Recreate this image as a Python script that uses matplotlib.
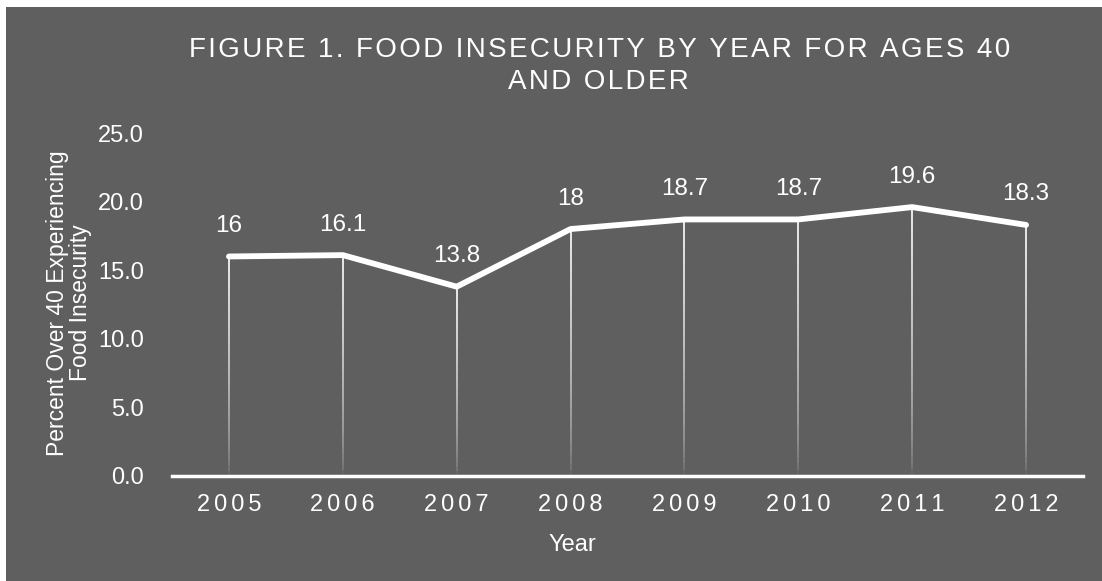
import numpy as np
import matplotlib.pyplot as plt

years = ["2005", "2006", "2007", "2008", "2009", "2010", "2011", "2012"]
values = [16, 16.1, 13.8, 18, 18.7, 18.7, 19.6, 18.3]
value_labels = ["16", "16.1", "13.8", "18", "18.7", "18.7", "19.6", "18.3"]
y_ticks = [0, 5, 10, 15, 20, 25]

bg = "#5f5f5f"
plt.rcParams["font.family"] = ["Liberation Sans", "DejaVu Sans"]


def spaced(s, n=1):
    # wide letter spacing like the original
    return ("\u200a" * n).join(s)


fig = plt.figure(figsize=(11.02, 5.81), dpi=100, facecolor="white")
# gray panel, white strip on the left and top
panel = plt.Rectangle((6 / 1102, 0), 1, 1 - 7 / 581, transform=fig.transFigure,
                      facecolor=bg, lw=0, zorder=-10)
fig.add_artist(panel)

ax = fig.add_axes([172 / 1102, 1 - 476 / 581, (1083 - 172) / 1102, (476 - 133) / 581])
ax.set_zorder(5)
ax.patch.set_alpha(0)
x = np.arange(len(years))
ax.set_xlim(-0.5, len(years) - 0.5)
ax.set_ylim(0, 25)

# drop lines fading toward the axis
n = 40
for xi, v in zip(x, values):
    edges = np.linspace(0, v, n + 1)
    for k in range(n):
        a = 0.05 + 0.9 * (k / n) ** 0.6
        ax.plot([xi, xi], [edges[k], edges[k + 1]], color="white", lw=1.3,
                alpha=a, solid_capstyle="butt", zorder=2)

ax.plot(x, values, color="white", lw=4.2, solid_capstyle="round",
        solid_joinstyle="round", zorder=3)

for xi, v, lab in zip(x, values, value_labels):
    ax.annotate(lab, (xi, v), xytext=(0, 14), textcoords="offset points",
                ha="center", va="bottom", color="white", fontsize=17.5)

ax.axhline(0, color="white", lw=2.5, zorder=4, clip_on=False)
for s in ax.spines.values():
    s.set_visible(False)

ax.set_xticks(x)
ax.set_xticklabels([spaced(y, 2) for y in years], color="white", fontsize=17)
ax.set_yticks(y_ticks)
ax.set_yticklabels([f"{t:.1f}" for t in y_ticks], color="white", fontsize=17)
ax.tick_params(length=0, pad=13)
ax.tick_params(axis="y", pad=20)

fig.text(600 / 1102, 1 - 50 / 581, spaced("FIGURE 1. FOOD INSECURITY BY YEAR FOR AGES 40"),
         ha="center", va="center", color="white", fontsize=20)
fig.text(598 / 1102, 1 - 82 / 581, spaced("AND OLDER"),
         ha="center", va="center", color="white", fontsize=20)
fig.text(572 / 1102, 1 - 545 / 581, "Year", ha="center", va="center",
         color="white", fontsize=17)
fig.text(69 / 1102, 1 - 303 / 581, "Percent Over 40 Experiencing\nFood Insecurity",
         ha="center", va="center", rotation=90, color="white", fontsize=16.5,
         linespacing=1.0)

fig.savefig("out.png", dpi=100, facecolor=fig.get_facecolor())
